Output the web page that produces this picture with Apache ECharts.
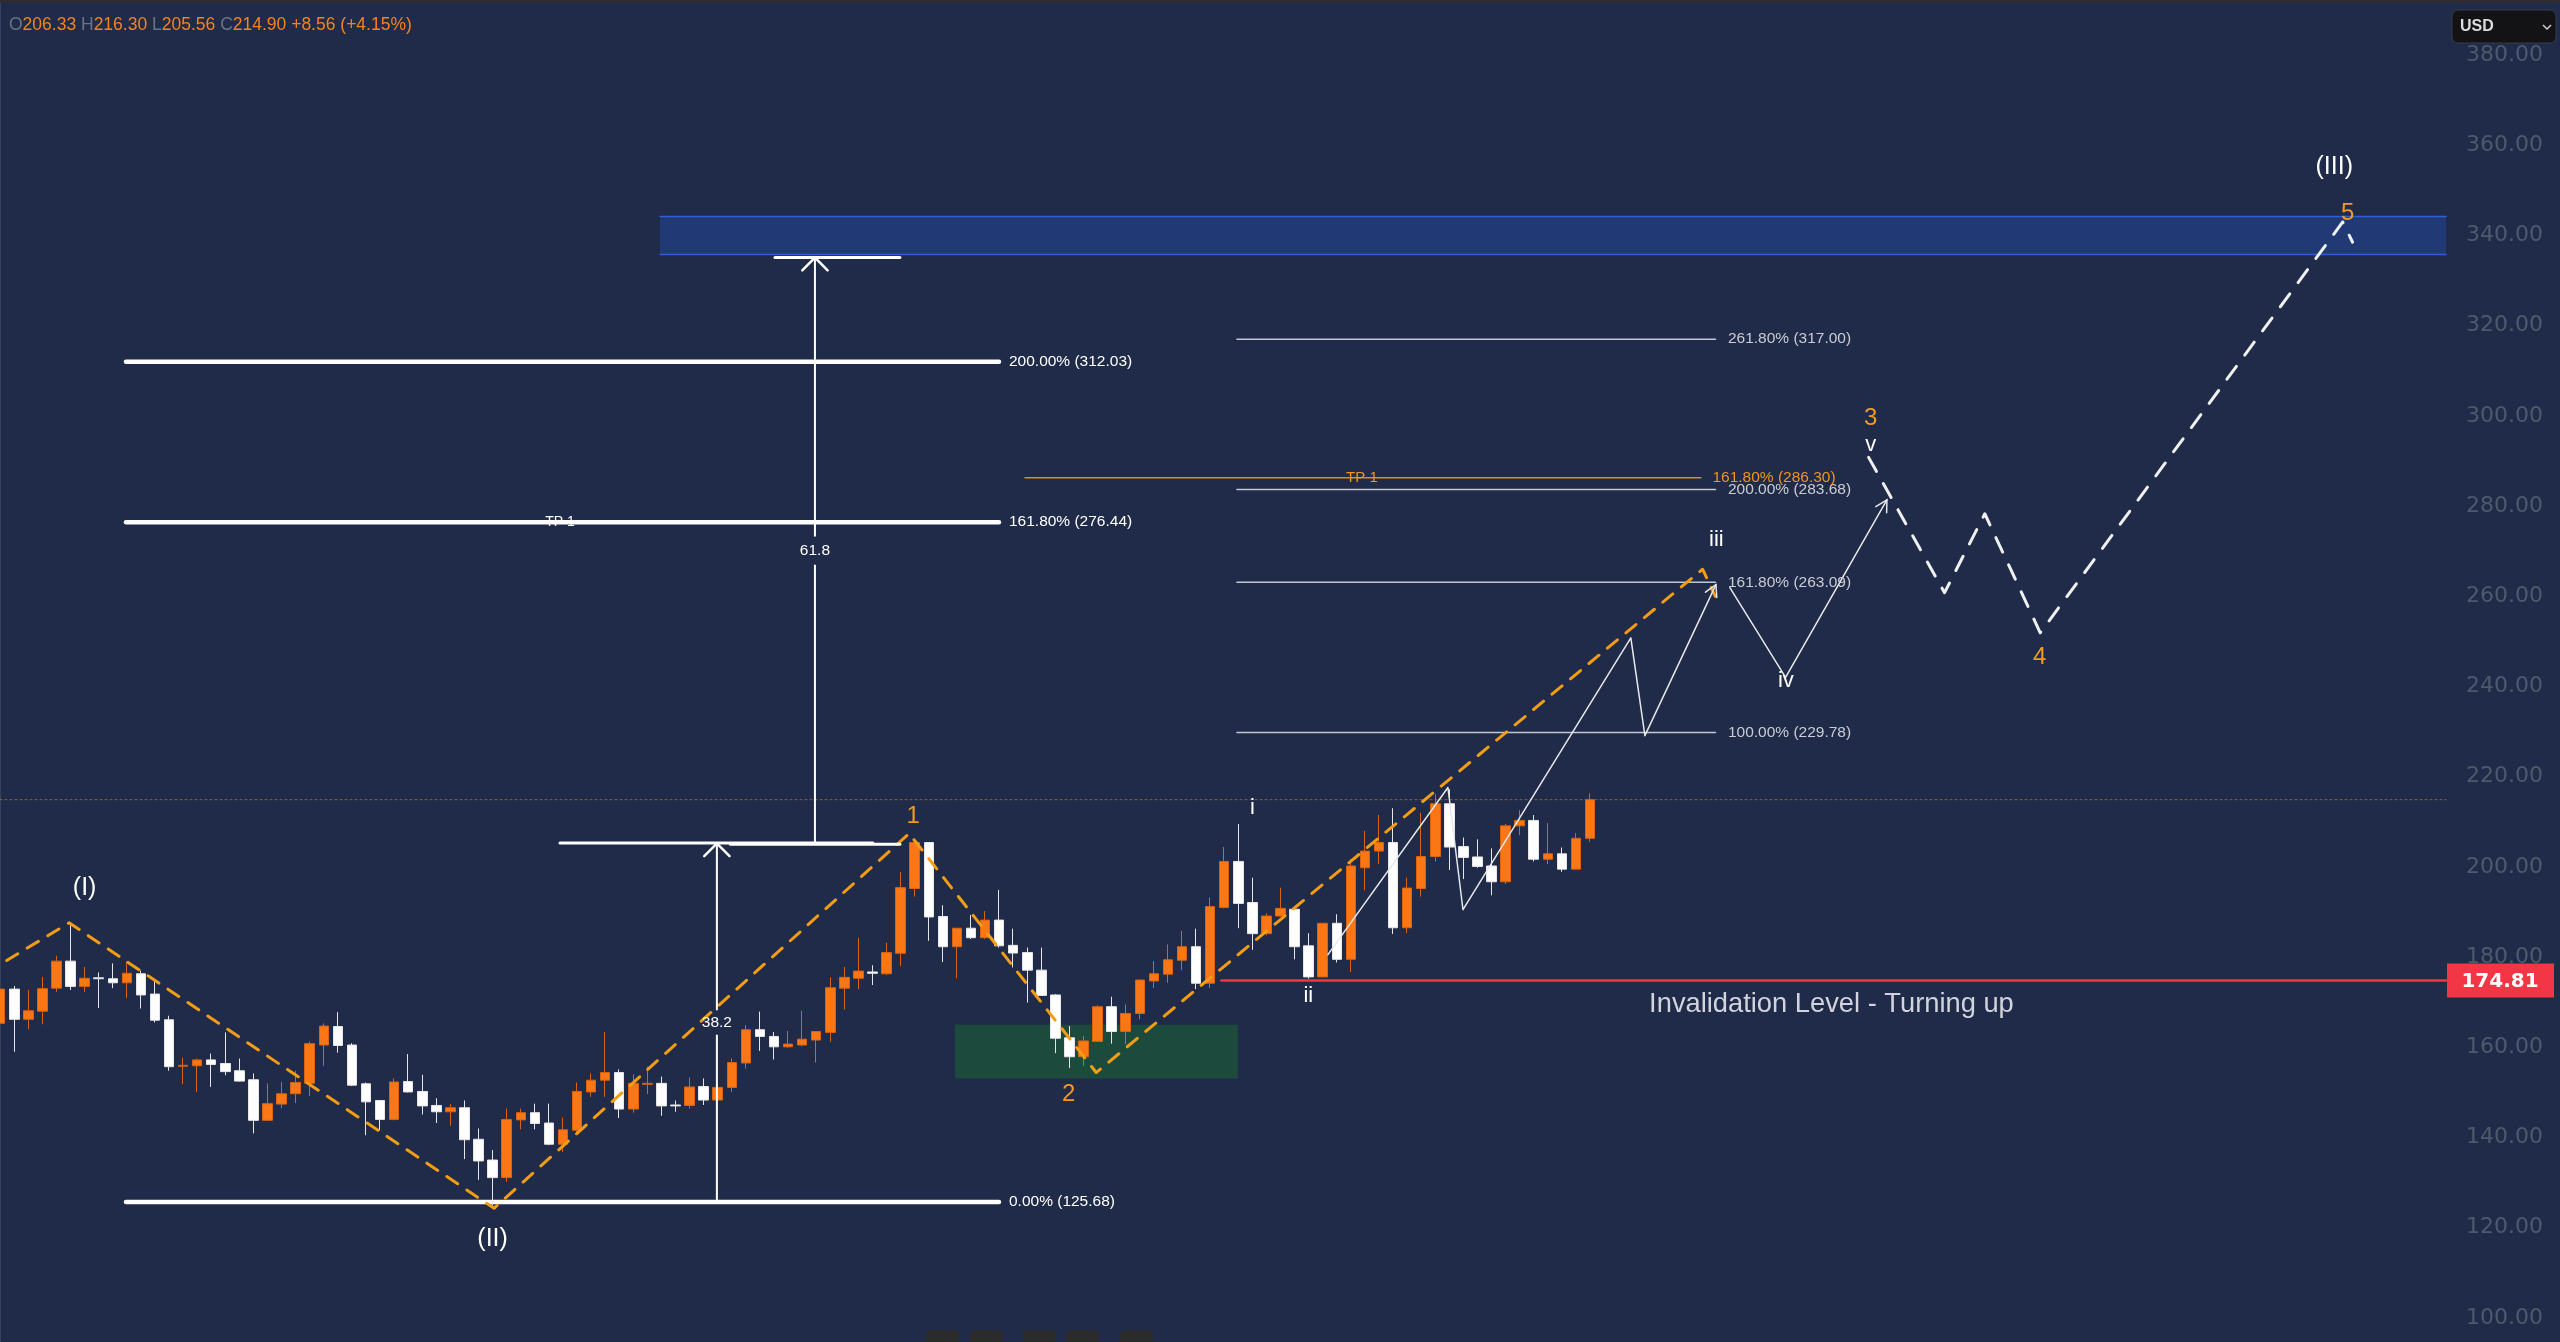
<!DOCTYPE html>
<html><head><meta charset="utf-8">
<script src="https://cdn.jsdelivr.net/npm/echarts@6/dist/echarts.min.js"></script>
<style>html,body{margin:0;padding:0;background:#1f2b48;overflow:hidden}#chart{width:2560px;height:1342px}</style>
</head><body><div id="chart"></div>
<script>
// ---------- candle data (index = bar number) ----------
const opens  = [165.3,172.9,166.2,168.0,173.1,179.1,173.5,175.4,175.2,174.3,176.3,171.8,166.1,155.8,155.9,157.2,156.4,154.8,152.8,143.8,147.4,149.7,152.0,160.5,164.6,160.5,151.9,148.2,144.0,152.4,150.2,147.1,145.7,146.6,139.6,135.0,131.1,143.9,145.5,143.2,138.5,141.6,150.1,152.7,154.4,146.3,151.8,152.0,147.2,147.1,151.3,148.3,151.1,156.5,163.9,162.4,160.1,160.5,161.6,163.3,173.1,175.3,176.7,176.3,180.85,195.2,205.4,189.0,182.3,186.4,184.3,188.2,182.6,181.0,177.1,171.6,162.1,157.9,161.3,169.0,163.5,167.5,174.7,176.2,179.3,182.3,174.2,191.0,201.2,192.1,185.2,189.1,190.6,182.5,175.6,187.5,179.5,199.8,203.5,205.4,186.5,195.2,202.3,214.0,204.5,202.2,200.2,196.7,209.1,210.3,201.7,202.9,199.5,206.33];
const highs  = [176.2,173.6,172.7,175.6,180.3,187.1,177.8,176.6,178.6,179.0,177.0,174.9,167.0,157.7,157.5,158.6,163.3,157.5,154.2,152.0,152.3,154.8,161.3,165.3,167.8,160.9,152.2,148.3,153.1,158.5,153.9,148.7,147.4,148.2,142.0,137.2,146.4,146.4,147.5,147.5,144.4,152.2,154.2,163.4,155.1,154.0,155.7,153.5,148.2,153.3,153.1,151.8,157.5,164.9,167.9,163.4,163.6,168.1,163.6,175.5,177.8,184.3,178.2,183.2,198.9,206.0,205.5,191.5,186.4,189.3,190.2,194.9,186.3,182.1,182.1,171.8,164.7,162.5,169.3,171.2,169.5,175.1,179.1,182.8,185.8,186.3,193.2,204.4,209.5,197.6,189.7,195.4,190.8,185.3,187.6,189.5,201.7,208.0,211.5,213.0,197.6,212.0,216.1,217.2,206.5,206.1,204.1,209.5,212.6,211.5,209.7,204.3,207.5,216.30];
const lows   = [164.4,159.0,164.0,165.1,172.3,172.7,172.3,168.7,173.1,170.9,168.6,165.5,154.8,151.8,150.1,151.2,153.8,152.4,140.9,143.7,146.5,147.6,149.2,155.9,158.8,151.4,140.5,141.6,143.8,150.0,145.1,143.2,142.6,135.2,130.6,124.8,130.2,141.8,141.8,138.3,136.8,140.7,149.0,149.0,144.3,145.5,149.6,144.8,145.7,146.4,147.2,148.1,150.1,155.3,159.2,157.3,159.9,160.2,156.6,161.2,168.4,172.9,173.8,176.0,178.0,193.4,183.6,178.9,175.3,184.0,184.0,182.1,177.7,169.9,171.4,158.7,155.4,155.9,161.2,160.8,160.7,166.2,173.1,174.3,177.1,172.9,173.1,190.8,186.4,181.6,184.8,188.9,179.5,175.2,175.5,178.8,176.7,194.8,200.6,185.1,185.3,193.4,201.2,199.3,197.3,199.8,193.7,196.2,207.0,201.2,200.6,198.9,199.5,205.56];
const closes = [172.9,166.2,168.1,173.0,179.1,173.5,175.3,175.2,174.3,176.4,171.6,166.0,155.7,156.0,157.2,156.2,154.6,152.5,143.8,147.5,149.7,152.2,160.8,164.7,160.4,151.6,147.9,144.0,152.3,150.1,147.0,145.7,146.6,139.5,134.8,131.1,144.0,145.5,143.1,138.5,141.7,150.2,152.7,154.4,146.3,152.0,152.0,147.0,147.0,151.2,148.3,151.1,156.6,163.9,162.4,160.1,160.7,161.8,163.5,173.2,175.5,176.9,176.4,181.0,195.4,205.4,188.9,182.3,186.4,184.3,188.2,182.5,180.9,177.1,171.5,162.0,157.9,161.4,169.0,163.5,167.5,174.9,176.3,179.4,182.3,174.2,191.2,201.2,191.9,185.2,189.1,190.8,182.3,175.6,187.5,179.5,200.2,203.5,205.4,186.5,195.3,202.3,214.0,204.4,202.1,200.1,196.7,209.1,210.3,201.7,202.9,199.5,206.34,214.90];

// ---------- price axis ----------
const yTicks = [100,120,140,160,180,200,220,240,260,280,300,320,340,360,380];
const X_MIN = -0.014, X_MAX = 173.84, Y_MIN = 94.65, Y_MAX = 391.55;

// ---------- fibonacci levels ----------
const fibLeftLevels = [312.03, 276.44, 125.68];
const fibLeftTexts  = ['200.00% (312.03)', '161.80% (276.44)', '0.00% (125.68)'];
const fibLeftSpan   = [8.94, 70.99];
const fibRightLevels = [317.00, 283.68, 263.09, 229.78];
const fibRightTexts  = ['261.80% (317.00)', '200.00% (283.68)', '161.80% (263.09)', '100.00% (229.78)'];
const fibRightSpan   = [87.9, 121.92];
const tpLevel = 286.30, tpText = '161.80% (286.30)', tpSpan = [72.84, 120.88];
const invalidationLevel = 174.81, invalidationStart = 86.8;
const targetZone = [46.9, 344.2, X_MAX, 335.8];
const wave2Zone  = [67.86, 165.0, 87.97, 153.06];

// ---------- wave paths ----------
const orangeWave = [[-1,176.5],[4.9,187.6],[35.1,124.3],[64.6,207.4],[77.9,154.4],[121.0,266.0],[121.9,260.0]];
const whitePathA = [[94.37,180.55],[102.9,217.6],[103.97,190.5],[115.9,250.8],[116.9,229.1],[121.95,262.6]];
const whitePathB = [[122.94,261.9],[126.9,242.0],[134.1,281.4]];
const projection = [[132.8,290.8],[138.2,260.8],[141.06,278.3],[145.0,251.9],[166.5,343.0],[167.2,338.5]];

// ---------- measurement ----------
const m382Lower = [[50.94,125.68],[50.94,162.6]];
const m382Upper = [[50.94,168.4],[50.94,205.2]];
const m618Lower = [[57.91,205.2],[57.91,266.8]];
const m618Upper = [[57.91,273.4],[57.91,335.1]];
const capA = [[39.79,205.3],[62.03,205.3]];
const capB = [[51.9,205.0],[63.95,205.0]];
const capTop = [[55.07,335.1],[63.95,335.1]];

// ---------- labels ----------
const romanBig = [['(I)',6.0,195.4],['(II)',35.0,117.4],['(III)',165.9,355.1]];
const orangeNums = [['1',64.9,211.3],['2',75.95,149.6],['3',132.95,299.5],['4',144.96,246.4],['5',166.86,344.9]];
const romanSmall = [['i',89.0,213.1],['ii',92.98,171.4],['iii',121.98,272.6],['iv',126.92,241.3],['v',132.95,293.6]];
const measureTexts = [['61.8',57.91,270.1],['38.2',50.94,165.5]];

const BG = '#1f2b48';
const FONT = "'Liberation Sans', Arial, sans-serif";

function lineS(points, color, width, type, z) {
  return {type:'line', data:points, symbol:'none', showSymbol:false, silent:true, animation:false, z:z,
    lineStyle:{color:color, width:width, type:type||'solid', cap:'round', join:'round'}};
}
function textS(items, style, z) {
  return {type:'custom', coordinateSystem:'cartesian2d', silent:true, animation:false, z:z, clip:false,
    data: items.map(t => [t[1], t[2]]),
    renderItem: (params, api) => {
      const p = api.coord([api.value(0), api.value(1)]);
      return {type:'text', x:p[0], y:p[1], style:Object.assign({text: items[params.dataIndex][0]}, style)};
    }};
}
function rectS(boxes, fill, z) {
  return {type:'custom', coordinateSystem:'cartesian2d', silent:true, animation:false, z:z, clip:true,
    data: boxes,
    renderItem: (params, api) => {
      const a = api.coord([api.value(0), api.value(1)]);
      const b = api.coord([api.value(2), api.value(3)]);
      return {type:'rect', shape:{x:Math.min(a[0],b[0]), y:Math.min(a[1],b[1]), width:Math.abs(b[0]-a[0]), height:Math.abs(b[1]-a[1])}, style:{fill:fill}};
    }};
}
function arrowS(arrows, color, len, halfAngle, width, z) {
  return {type:'custom', coordinateSystem:'cartesian2d', silent:true, animation:false, z:z, clip:false,
    data: arrows,
    renderItem: (params, api) => {
      const t = api.coord([api.value(0), api.value(1)]);
      const f = api.coord([api.value(2), api.value(3)]);
      const ang = Math.atan2(t[1]-f[1], t[0]-f[0]);
      const w1 = [t[0]-len*Math.cos(ang-halfAngle), t[1]-len*Math.sin(ang-halfAngle)];
      const w2 = [t[0]-len*Math.cos(ang+halfAngle), t[1]-len*Math.sin(ang+halfAngle)];
      return {type:'polyline', shape:{points:[w1,t,w2]}, style:{stroke:color, lineWidth:width, fill:null, lineCap:'round'}};
    }};
}

const candleData = opens.map((o, i) => [i, o, closes[i], lows[i], highs[i]]);
const series = [];

// zones
series.push(rectS([wave2Zone], '#1c4b3e', 1));
series.push(rectS([targetZone], '#213a76', 1));
series.push(lineS([[targetZone[0], targetZone[1]], [targetZone[2], targetZone[1]]], '#2f5fd6', 1.5, 'solid', 2));
series.push(lineS([[targetZone[0], targetZone[3]], [targetZone[2], targetZone[3]]], '#2f5fd6', 1.5, 'solid', 2));

// last price dotted line
series.push(lineS([[X_MIN, closes[closes.length-1]], [X_MAX, closes[closes.length-1]]], 'rgba(190,120,60,0.7)', 1, [2,3], 2));

// fib lines
fibLeftLevels.forEach(v => series.push(lineS([[fibLeftSpan[0], v], [fibLeftSpan[1], v]], '#ffffff', 4.5, 'solid', 3)));
fibRightLevels.forEach(v => series.push(lineS([[fibRightSpan[0], v], [fibRightSpan[1], v]], '#c3c7cf', 1.5, 'solid', 3)));
series.push(lineS([[tpSpan[0], tpLevel], [tpSpan[1], tpLevel]], '#e08a1e', 1.5, 'solid', 3));

// invalidation
series.push(lineS([[invalidationStart, invalidationLevel], [X_MAX, invalidationLevel]], '#f23645', 2.5, 'solid', 4));

// candles
series.push({type:'candlestick', data:candleData, barWidth:10, silent:true, animation:false, z:5,
  itemStyle:{color:'#fb7614', color0:'#ffffff', borderColor:'#d8640f', borderColor0:'#e6e6e6', borderWidth:1}});

// waves
series.push(lineS(orangeWave, '#f39c14', 3, [13,11], 6));
series.push(lineS(whitePathA, '#e8e8e8', 1.5, 'solid', 7));
series.push(lineS(whitePathB, '#e8e8e8', 1.5, 'solid', 7));
series.push(lineS(projection, '#f0f0f0', 3, [16,14], 7));
series.push(arrowS([[whitePathA[5][0], whitePathA[5][1], whitePathA[4][0], whitePathA[4][1]],
                    [whitePathB[2][0], whitePathB[2][1], whitePathB[1][0], whitePathB[1][1]]], '#e8e8e8', 13, 0.5, 1.5, 7));

// measurement tools
[m382Lower, m382Upper, m618Lower, m618Upper].forEach(p => series.push(lineS(p, '#ffffff', 2, 'solid', 8)));
[capA, capB, capTop].forEach(p => series.push(lineS(p, '#ffffff', 3, 'solid', 8)));
series.push(arrowS([[m382Upper[1][0], m382Upper[1][1], m382Upper[0][0], m382Upper[0][1]],
                    [m618Upper[1][0], m618Upper[1][1], m618Upper[0][0], m618Upper[0][1]]], '#ffffff', 18, 0.78, 2.5, 8));

// texts
const midL = {align:'left', verticalAlign:'middle'};
series.push(textS(fibLeftTexts.map((t, k) => [t, 71.7, fibLeftLevels[k]]), Object.assign({fill:'#ffffff', font:'15.5px ' + FONT}, midL), 9));
series.push(textS(fibRightTexts.map((t, k) => [t, 122.8, fibRightLevels[k]]), Object.assign({fill:'#c9ccd3', font:'15.5px ' + FONT}, midL), 9));
series.push(textS([[tpText, 121.7, tpLevel]], Object.assign({fill:'#f0961e', font:'15.5px ' + FONT}, midL), 10));
series.push(textS([['TP 1', 96.79, tpLevel]], {fill:'#f0961e', font:'15px ' + FONT, align:'center', verticalAlign:'middle'}, 10));
series.push(textS([['TP 1', 39.79, fibLeftLevels[1]]], {fill:'#ffffff', font:'14px ' + FONT, align:'center', verticalAlign:'middle'}, 10));
series.push(textS(measureTexts, {fill:'#ffffff', font:'15.5px ' + FONT, align:'center', verticalAlign:'middle'}, 10));
series.push(textS(romanBig, {fill:'#ffffff', font:'25px ' + FONT, align:'center', verticalAlign:'middle'}, 10));
series.push(textS(orangeNums, {fill:'#f49a1f', font:'24px ' + FONT, align:'center', verticalAlign:'middle'}, 10));
series.push(textS(romanSmall, {fill:'#ffffff', font:'22px ' + FONT, align:'center', verticalAlign:'middle'}, 10));
series.push(textS([['Invalidation Level - Turning up', 117.2, 169.5]], {fill:'#d1d4dc', font:'27.3px ' + FONT, align:'left', verticalAlign:'middle'}, 10));

// axis price tag for the invalidation level
series.push({type:'custom', coordinateSystem:'cartesian2d', silent:true, animation:false, z:20, clip:false,
  data:[[X_MAX, invalidationLevel]],
  renderItem: (params, api) => {
    const p = api.coord([api.value(0), api.value(1)]);
    return {type:'group', children:[
      {type:'rect', shape:{x:p[0]+1, y:p[1]-17, width:107, height:34}, style:{fill:'#f23645'}},
      {type:'text', x:p[0]+54, y:p[1]+1, style:{text: invalidationLevel.toFixed(2), fill:'#ffffff', font:'bold 20px DejaVu Sans', align:'center', verticalAlign:'middle'}}
    ]};
  }});

const n = closes.length;
const chg = closes[n-1] - closes[n-2];
const pct = chg / closes[n-2] * 100;
const ohlcText = '{k|O}{v|' + opens[n-1].toFixed(2) + '} {k|H}{v|' + highs[n-1].toFixed(2) + '} {k|L}{v|' + lows[n-1].toFixed(2) +
  '} {k|C}{v|' + closes[n-1].toFixed(2) + '} {v|' + (chg >= 0 ? '+' : '') + chg.toFixed(2) + ' (' + (pct >= 0 ? '+' : '') + pct.toFixed(2) + '%)}';

const toolbarIcons = [926, 970, 1023, 1066, 1120];

const chart = echarts.init(document.getElementById('chart'), null, {renderer:'canvas'});
chart.setOption({
  backgroundColor: BG,
  animation: false,
  grid: {left:0, right:114, top:3, bottom:0, containLabel:false, outerBoundsMode:'none'},
  xAxis: {type:'value', min:X_MIN, max:X_MAX, show:false},
  yAxis: {type:'value', position:'right', min:Y_MIN, max:Y_MAX, scale:true,
    splitLine:{show:false}, axisTick:{show:false},
    axisLine:{show:true, lineStyle:{color:'#36415a', width:2}},
    axisLabel:{customValues:yTicks, formatter:(v) => Number(v).toFixed(2), color:'#4f596d', fontFamily:'DejaVu Sans', fontSize:22, margin:20}},
  series: series,
  graphic: [
    {type:'rect', left:0, top:0, shape:{width:2560, height:3}, style:{fill:'#2b2d33'}, z:100},
    {type:'text', x:9, y:25, z:100, style:{text:ohlcText, verticalAlign:'middle', font:'17.5px ' + FONT,
      rich:{k:{fill:'#6b7386', font:'17.5px ' + FONT}, v:{fill:'#f7821b', font:'17.5px ' + FONT}}}},
    {type:'rect', x:2452, y:10, shape:{width:104, height:33, r:6}, style:{fill:'#131316', stroke:'#3a3d45', lineWidth:1}, z:100},
    {type:'text', x:2460, y:27, z:101, style:{text:'USD', fill:'#dcdcdc', font:'bold 16px ' + FONT, verticalAlign:'middle'}},
    {type:'polyline', shape:{points:[[2543,25],[2547,29],[2551,25]]}, style:{stroke:'#cfcfcf', lineWidth:1.5, fill:null}, z:101}
  ].concat(toolbarIcons.map(x => ({type:'rect', x:x, y:1330, shape:{width:33, height:20, r:5}, style:{fill:'#2b2b2b'}, z:100})))
});
</script></body></html>
